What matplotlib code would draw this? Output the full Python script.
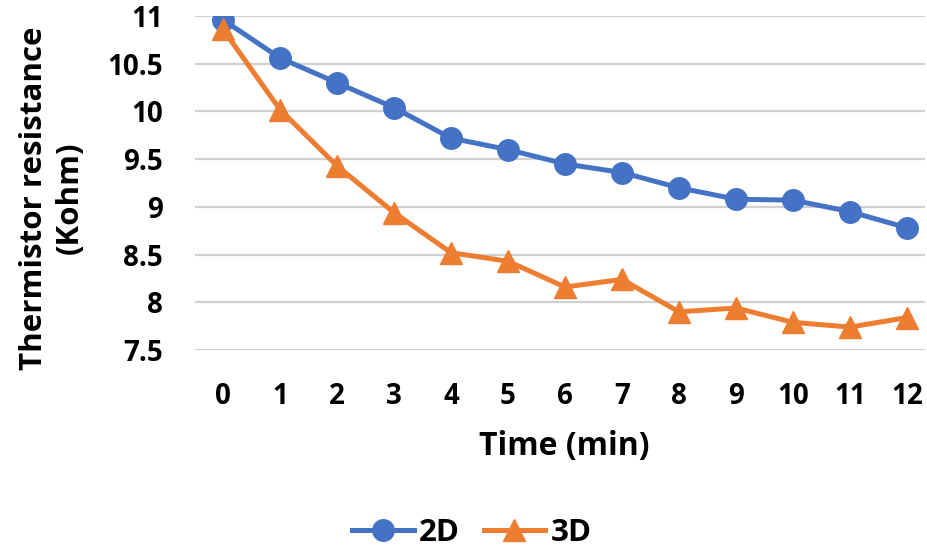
import matplotlib
matplotlib.use("Agg")
import matplotlib.pyplot as plt

time_min = [0, 1, 2, 3, 4, 5, 6, 7, 8, 9, 10, 11, 12]
res_2d = [10.96, 10.56, 10.30, 10.04, 9.72, 9.60, 9.45, 9.36, 9.20, 9.08, 9.07, 8.95, 8.78]
res_3d = [10.86, 10.02, 9.43, 8.94, 8.52, 8.43, 8.16, 8.24, 7.90, 7.94, 7.79, 7.74, 7.84]
y_ticks = [7.5, 8, 8.5, 9, 9.5, 10, 10.5, 11]
y_tick_labels = ["7.5", "8", "8.5", "9", "9.5", "10", "10.5", "11"]

plt.rcParams['font.family'] = ['Open Sans', 'DejaVu Sans']

W, H = 928, 550
fig = plt.figure(figsize=(W/100, H/100), dpi=100)
ax = fig.add_axes([195/W, 1-350/H, (925-195)/W, (350-16)/H])

ax.plot(time_min, res_2d, color='#4472C4', lw=3.6, marker='o', ms=15.5, label='2D', zorder=3)
ax.plot(time_min, res_3d, color='#ED7D31', lw=3.6, marker='^', ms=15.5, label='3D', zorder=3)

ax.set_ylim(7.5, 11)
ax.set_xlim(-0.491, 12.316)
ax.set_yticks(y_ticks)
ax.set_yticklabels(y_tick_labels)
ax.set_xticks(time_min)
ax.set_xticklabels([str(t) for t in time_min])
ax.grid(axis='y', color='#D0D0D0', lw=1.6, zorder=0)
ax.set_axisbelow(True)
for s in ax.spines.values():
    s.set_visible(False)
ax.tick_params(axis='both', length=0, labelsize=20)
ax.tick_params(axis='y', pad=23)
ax.tick_params(axis='x', pad=23)
for lab in ax.get_xticklabels() + ax.get_yticklabels():
    lab.set_fontweight('bold')

fig.text(564/W, 1-447/H, 'Time (min)', fontsize=23, fontweight='bold', ha='center', va='center')
fig.text(52/W, 1-198/H, 'Thermistor resistance\n(Kohm)', fontsize=22.5, fontweight='bold',
         rotation=90, ha='center', va='center', multialignment='center', linespacing=1.25)

leg = fig.legend(loc='center', bbox_to_anchor=(472/W, 1-533/H), ncol=2, frameon=False,
                 prop={'size': 22.5, 'weight': 'bold'}, handlelength=1.96, columnspacing=0.75,
                 handletextpad=0.18)

fig.savefig('out.png', dpi=100)
